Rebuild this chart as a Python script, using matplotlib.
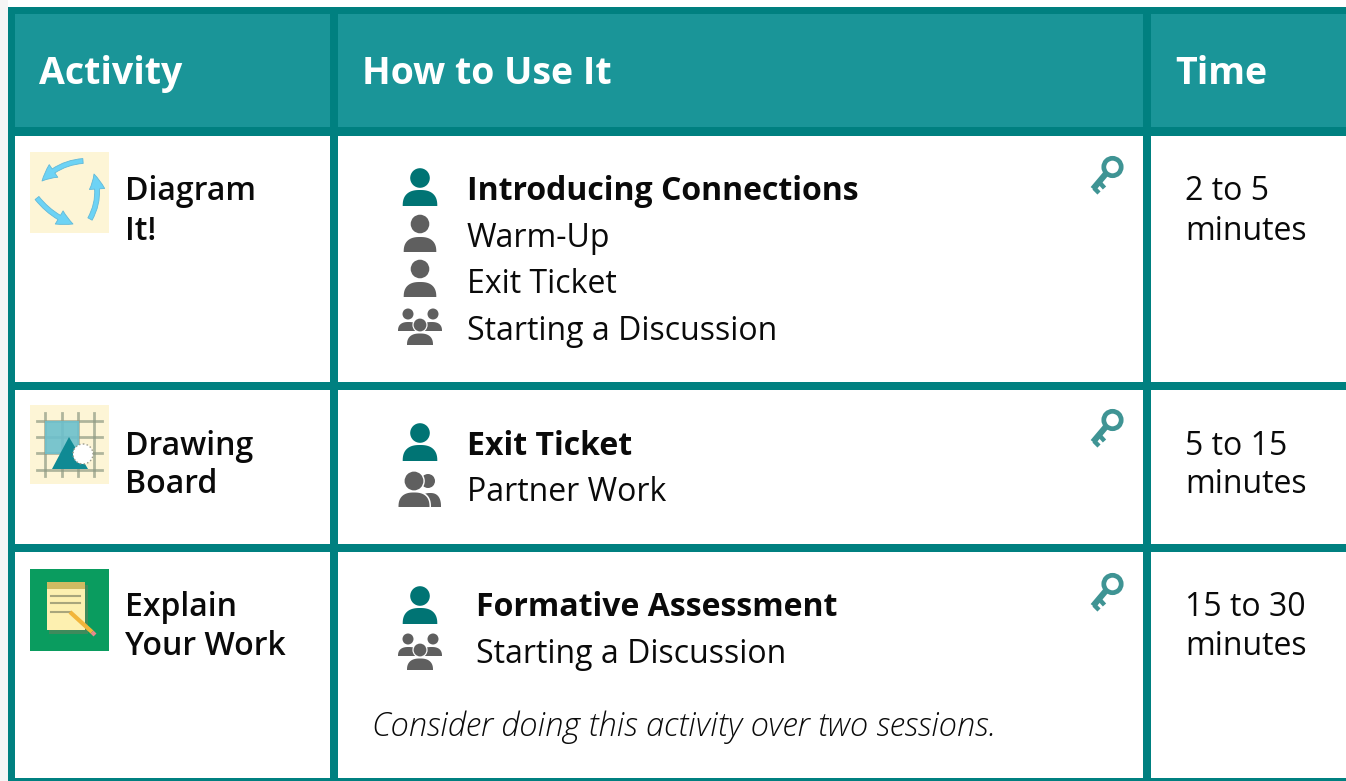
#!/usr/bin/env python3
"""Activity table drawn in pixel coordinates."""

import numpy as np
import matplotlib
matplotlib.use('Agg')
import matplotlib.pyplot as plt
from matplotlib.patches import Rectangle, Circle, Polygon, FancyArrowPatch

headers = ['Activity', 'How to Use It', 'Time']
activities = [['Diagram', 'It!'], ['Drawing', 'Board'], ['Explain', 'Your Work']]
uses = [
    ['Introducing Connections', 'Warm-Up', 'Exit Ticket', 'Starting a Discussion'],
    ['Exit Ticket', 'Partner Work'],
    ['Formative Assessment', 'Starting a Discussion'],
]
times = [['2 to 5', 'minutes'], ['5 to 15', 'minutes'], ['15 to 30', 'minutes']]
note = 'Consider doing this activity over two sessions.'

TEAL = '#008080'
HEAD = '#1a9598'
DARK_ICON = '#007474'
GRAY_ICON = '#5f5f5f'
KEY = '#3f9494'
TEXT = '#0a0a0a'

plt.rcParams['font.family'] = ['Open Sans', 'DejaVu Sans']

fig = plt.figure(figsize=(13.46, 7.81), dpi=100, facecolor='white')
ax = fig.add_axes([0, 0, 1, 1])
ax.set_xlim(0, 1346)
ax.set_ylim(781, 0)
ax.axis('off')


def rect(x0, y0, x1, y1, color, z=1):
    ax.add_patch(Rectangle((x0, y0), x1 - x0, y1 - y0, fc=color, ec='none', zorder=z))


def dome(cx, top, base, half_w, color, z=4):
    # rounded shoulders, a bit fuller than a plain half ellipse
    t = np.linspace(np.pi, 2 * np.pi, 60)
    c, s = np.cos(t), np.sin(t)
    xs = cx + half_w * np.sign(c) * np.abs(c) ** 0.8
    ys = base - (base - top) * np.abs(s) ** 0.8
    ax.add_patch(Polygon(np.column_stack([xs, ys]), closed=True, fc=color, ec='none', zorder=z))


def person(cy, color, big=False):
    cx = 420
    if big:
        ax.add_patch(Circle((cx, cy), 9.8, fc=color, ec='none', zorder=4))
        dome(cx, cy + 12, cy + 28, 17.3, color)
    else:
        ax.add_patch(Circle((cx, cy), 9.3, fc=color, ec='none', zorder=4))
        dome(cx, cy + 13, cy + 28, 16.3, color)


def group(cy):
    # cy is the centre of the middle head
    for hx, bx in ((408, 408.5), (433, 431.5)):
        ax.add_patch(Circle((hx, cy - 11), 5.5, fc=GRAY_ICON, ec='none', zorder=4))
        dome(bx, cy - 3, cy + 6, 10.5, GRAY_ICON)
    ax.add_patch(Circle((420, cy), 7.6, fc='white', ec='none', zorder=5))
    ax.add_patch(Circle((420, cy), 6.4, fc=GRAY_ICON, ec='none', zorder=6))
    dome(420, cy + 7, cy + 20, 15, 'white', z=5)
    dome(420, cy + 8.5, cy + 20, 13, GRAY_ICON, z=6)


def partner(cy):
    ax.add_patch(Circle((428, cy), 7, fc=GRAY_ICON, ec='none', zorder=4))
    dome(430, cy + 12, cy + 26, 11, GRAY_ICON)
    ax.add_patch(Circle((414, cy), 10.8, fc='white', ec='none', zorder=5))
    ax.add_patch(Circle((414, cy), 9.4, fc=GRAY_ICON, ec='none', zorder=6))
    dome(414, cy + 10, cy + 26, 17, 'white', z=5)
    dome(414, cy + 11.5, cy + 26, 15.5, GRAY_ICON, z=6)


def key(cy):
    cx = 1112.5
    ax.add_patch(Circle((cx, cy), 8.7, fc='none', ec=KEY, lw=3.4, zorder=4))
    ax.plot([cx - 6, 1093], [cy + 6, cy + 22], color=KEY, lw=4.4, solid_capstyle='butt', zorder=4)
    ax.plot([1100, 1104.5], [cy + 16, cy + 21], color=KEY, lw=3.2, solid_capstyle='butt', zorder=4)
    ax.plot([1094, 1099], [cy + 21, cy + 26], color=KEY, lw=3.2, solid_capstyle='butt', zorder=4)


def label(x, y, s, size=23, weight='normal', style='normal', color=TEXT):
    ax.text(x, y, s, fontsize=size, fontweight=weight, fontstyle=style, color=color,
            ha='left', va='baseline', zorder=7)


def tile_arrows():
    rect(30, 152, 109, 233, '#fdf5d6', 2)
    arrows = [((83, 161), (42, 181), 0.2), ((37, 198), (73, 224), 0.14), ((90, 219), (94, 174), 0.22)]
    for a, b, rad in arrows:
        ax.add_patch(FancyArrowPatch(a, b, connectionstyle=f'arc3,rad={rad}',
                                     arrowstyle='simple,head_width=11,head_length=11,tail_width=3.5',
                                     shrinkA=0, shrinkB=0,
                                     fc='#6dd3f5', ec='#62b9d8', lw=0.6, zorder=3))


def tile_board():
    rect(30, 405, 109, 484, '#fdf5d6', 2)
    for gx in (45, 62, 78, 94):
        ax.plot([gx, gx], [413, 476], color='#8f9a84', lw=2, alpha=0.7, zorder=3)
    for gy in (421, 437, 453, 470):
        ax.plot([37, 102], [gy, gy], color='#8f9a84', lw=2, alpha=0.7, zorder=3)
    ax.add_patch(Rectangle((45, 421), 34, 33, fc='#6cc0cd', ec='none', alpha=0.9, zorder=3.5))
    ax.add_patch(Polygon([[69, 437], [52, 469], [88, 469]], closed=True, fc='#0f8a94', ec='none', zorder=4))
    ax.add_patch(Circle((83, 454), 10, fc='white', ec='#9a9a8c', lw=1, ls=':', zorder=5))


def tile_note():
    rect(30, 569, 109, 651, '#0a9c5f', 2)
    rect(49, 585, 88, 634, '#3f8a5c', 3)
    rect(47, 582, 85, 630, '#fdf0b0', 4)
    rect(47, 582, 85, 589, '#cfbb62', 5)
    for gy, x1 in zip((596, 603, 612), (80, 80, 70)):
        ax.plot([51, x1], [gy, gy], color='#a9a67c', lw=1.5, zorder=5)
    ax.plot([70, 92], [612, 632], color='#f2b53a', lw=3, solid_capstyle='butt', zorder=6)
    ax.plot([92, 95], [632, 635], color='#e88a8a', lw=3, solid_capstyle='butt', zorder=6)


# frame and header
rect(0, 0, 8, 781, '#f5f5f5', 0)
rect(8, 7, 1346, 781, TEAL, 1)
rect(15, 14, 330, 127, HEAD, 2)
rect(338, 14, 1143, 127, HEAD, 2)
rect(1151, 14, 1346, 127, HEAD, 2)

row_top = [136, 390, 552]
row_bot = [382, 544, 778]
for y0, y1 in zip(row_top, row_bot):
    rect(15, y0, 330, y1, 'white', 2)
    rect(338, y0, 1143, y1, 'white', 2)
    rect(1151, y0, 1346, y1, 'white', 2)

head_x = [39, 361.5, 1175]
for x, s in zip(head_x, headers):
    label(x, 84, s, size=27, weight='bold', color='white')

tile_arrows()
tile_board()
tile_note()

# activity names and times
name_y = [200, 455, 616]
line_h = [39.5, 38, 39]
for y, h, name, t in zip(name_y, line_h, activities, times):
    for i in range(2):
        label(125, y + i * h, name[i], weight='semibold')
        label(1185, y + i * h, t[i])

# how to use it
use_x = [467, 467, 476]
use_y = [[200, 247, 293, 340], [455, 501], [616, 663]]
for x, ys, items in zip(use_x, use_y, uses):
    for i, (y, s) in enumerate(zip(ys, items)):
        label(x, y, s, weight='bold' if i == 0 else 'normal')

label(372, 736, note, size=23.55, style='italic', weight='light')

person(178, DARK_ICON, big=True)
person(224, GRAY_ICON)
person(269, GRAY_ICON)
group(325)
person(433, DARK_ICON, big=True)
partner(481)
person(596, DARK_ICON, big=True)
group(650)

for y in (167, 420, 584):
    key(y)

fig.savefig('out.png', dpi=100)
